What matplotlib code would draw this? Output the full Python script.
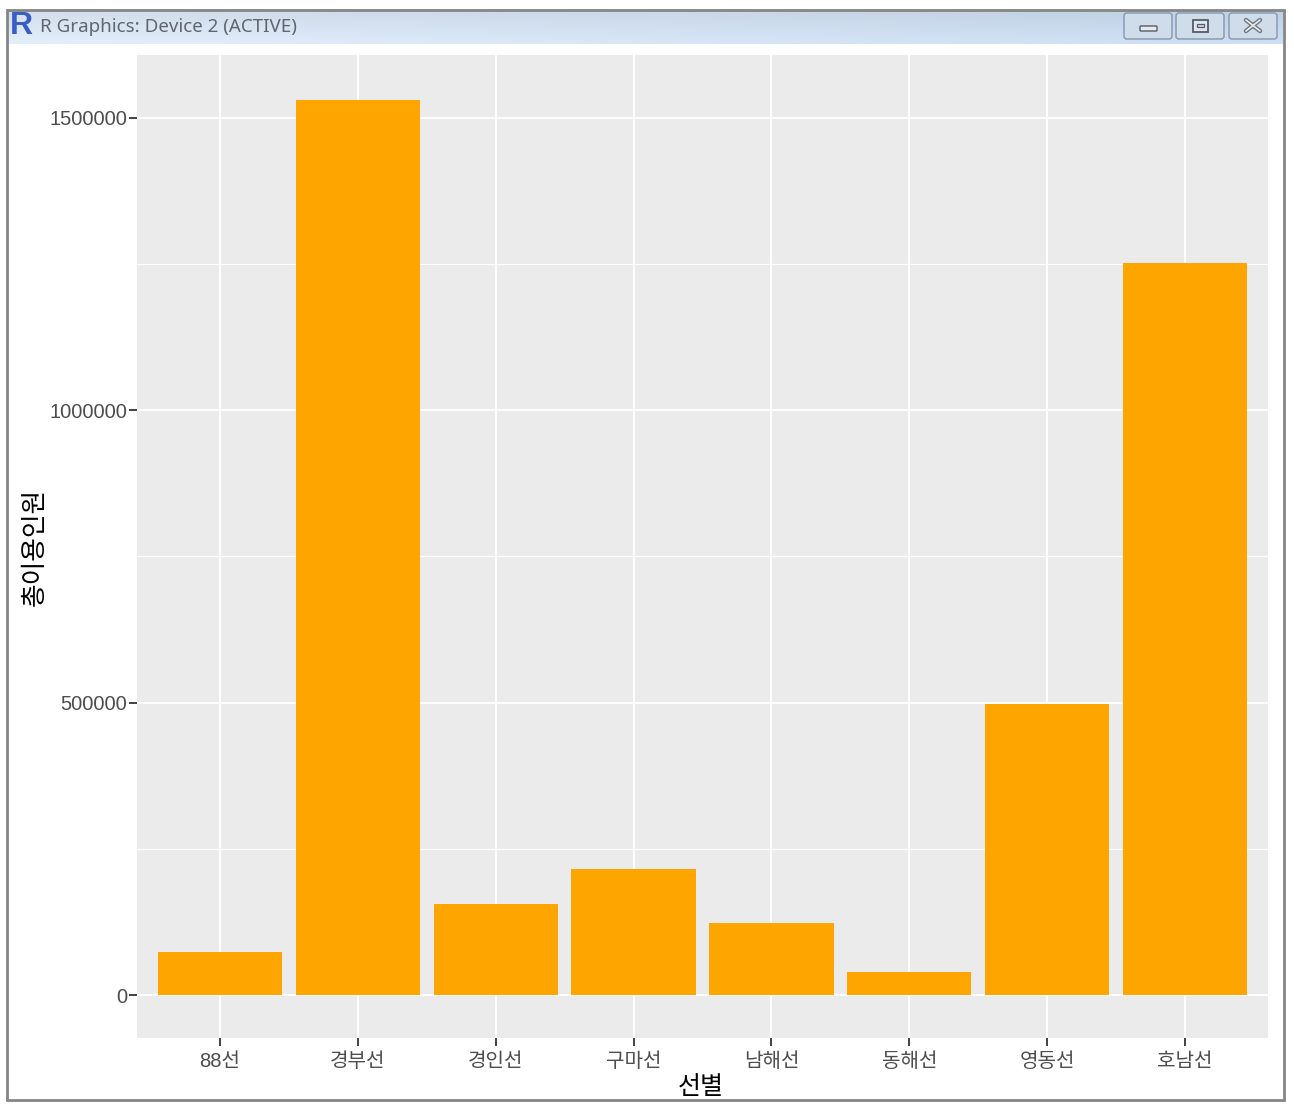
import matplotlib
matplotlib.use("Agg")
import matplotlib.pyplot as plt
import numpy as np
from matplotlib.patches import Rectangle, FancyBboxPatch

categories = ["88선", "경부선", "경인선", "구마선", "남해선", "동해선", "영동선", "호남선"]
totals = [74000, 1531000, 156000, 216000, 124000, 40000, 498000, 1252000]
major_ticks = [0, 500000, 1000000, 1500000]
minor_ticks = [250000, 750000, 1250000]
window_title = "R Graphics: Device 2 (ACTIVE)"
x_title = "선별"
y_title = "총이용인원"

FONT = ["Liberation Sans", "Noto Sans CJK KR"]
plt.rcParams["font.family"] = FONT
W, H = 1294, 1104
fig = plt.figure(figsize=(W / 100, H / 100), dpi=100, facecolor="white")

# window chrome, in pixel coordinates
bg = fig.add_axes([0, 0, 1, 1], zorder=0)
bg.axis("off")
grad = np.linspace(0, 1, 256)[None, :, None]
c0 = np.array([0.86, 0.90, 0.95])[None, None, :]
c1 = np.array([0.77, 0.84, 0.92])[None, None, :]
vert = np.linspace(0.97, 1.04, 34)[:, None, None]
img = np.clip((c0 * (1 - grad) + c1 * grad) * vert, 0, 1)
bg.imshow(img, extent=(8, 1283, 44, 10), aspect="auto", zorder=1)
bg.set_xlim(0, W)
bg.set_ylim(H, 0)
bg.add_patch(Rectangle((7, 9.5), 1277, 1090, fill=False, ec="#858585", lw=2, zorder=3))
for x0, x1 in [(1124, 1172), (1176, 1224), (1229, 1277)]:
    bg.add_patch(FancyBboxPatch((x0, 13), x1 - x0, 26,
                                boxstyle="round,pad=0,rounding_size=3",
                                fc="#cfdcea", ec="#8a9bb3", lw=1.1, zorder=3))
bg.add_patch(FancyBboxPatch((1140, 26), 17, 5, boxstyle="round,pad=0,rounding_size=1",
                            fc="#e6e9ee", ec="#555c66", lw=1.0, zorder=4))
bg.add_patch(Rectangle((1193, 20), 15, 12, fc="#dfe5ec", ec="#555c66", lw=1.3, zorder=4))
bg.add_patch(Rectangle((1197, 24), 7, 3, fc="#cfdcea", ec="#555c66", lw=0.9, zorder=5))
bg.plot([1246, 1260], [20, 31], color="#6e7680", lw=3.2, zorder=4, solid_capstyle="round")
bg.plot([1246, 1260], [31, 20], color="#6e7680", lw=3.2, zorder=4, solid_capstyle="round")
bg.plot([1246, 1260], [20, 31], color="#e8ecf1", lw=1.2, zorder=5, solid_capstyle="round")
bg.plot([1246, 1260], [31, 20], color="#e8ecf1", lw=1.2, zorder=5, solid_capstyle="round")
bg.text(21, 26, "R", fontsize=23, fontweight="bold", color="#3a5fc4", ha="center", va="center", zorder=4,
        family="Liberation Sans")
bg.text(40, 26.5, window_title, fontsize=13.5, color="#5f6670", ha="left", va="center", zorder=4,
        family="Noto Sans")

# plot panel
ax = fig.add_axes([137 / W, 1 - 1038 / H, (1268 - 137) / W, (1038 - 55) / H], zorder=2, facecolor="#EBEBEB")
xs = np.arange(len(categories))
ax.bar(xs, totals, width=0.9, color="#FFA500", zorder=3)
ax.set_xlim(-0.6, 7.6)
ax.set_ylim(-73500, 1607700)
ax.set_xticks(xs)
ax.set_xticklabels(categories, fontsize=14.5, color="#4D4D4D")
ax.set_yticks(major_ticks)
ax.set_yticklabels([str(v) for v in major_ticks], fontsize=14.5, color="#4D4D4D")
ax.set_yticks(minor_ticks, minor=True)
ax.grid(True, which="major", color="white", lw=1.3, zorder=1)
ax.grid(True, which="minor", axis="y", color="white", lw=0.8, zorder=1)
ax.set_axisbelow(True)
ax.tick_params(axis="x", which="major", length=6, width=1.3, color="#333333", pad=4)
ax.tick_params(axis="y", which="major", length=6, width=1.3, color="#333333", pad=1)
ax.tick_params(axis="y", which="minor", length=0)
for s in ax.spines.values():
    s.set_visible(False)
bg.text(701, 1087, x_title, fontsize=18, color="black", ha="center", va="center", zorder=4)
bg.text(35, 547, y_title, fontsize=18.5, color="black", rotation=90, ha="center", va="center", zorder=4)

fig.savefig("out.png", dpi=100, facecolor="white")
